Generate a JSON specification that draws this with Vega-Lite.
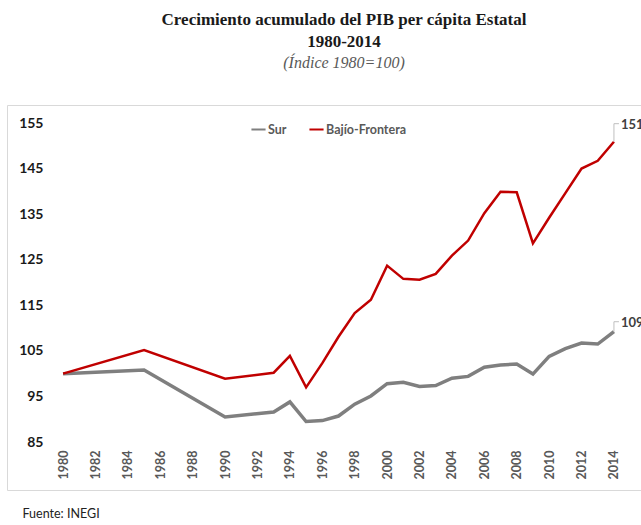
{
  "$schema": "https://vega.github.io/schema/vega-lite/v6.json",
  "autosize": {"type": "none"},
  "width": 640,
  "height": 385,
  "padding": {"left": 7, "top": 105, "right": 0, "bottom": 35},
  "background": "white",
  "title": {
    "text": ["Crecimiento acumulado del PIB per cápita Estatal", "1980-2014"],
    "subtitle": "(Índice 1980=100)",
    "font": "Liberation Serif",
    "fontSize": 17,
    "fontWeight": "bold",
    "color": "#1a1a1a",
    "lineHeight": 22,
    "subtitleFont": "Liberation Serif",
    "subtitleFontSize": 16,
    "subtitleFontStyle": "italic",
    "subtitleColor": "#595959",
    "subtitlePadding": 4,
    "anchor": "middle",
    "frame": "group",
    "dx": 17,
    "offset": 33
  },
  "config": {"view": {"stroke": "#d9d9d9", "strokeWidth": 1}},
  "data": {
    "values": [
      {"year": 1980, "serie": "Sur", "value": 100},
      {"year": 1985, "serie": "Sur", "value": 100.8},
      {"year": 1990, "serie": "Sur", "value": 90.5},
      {"year": 1993, "serie": "Sur", "value": 91.6},
      {"year": 1994, "serie": "Sur", "value": 93.8},
      {"year": 1995, "serie": "Sur", "value": 89.5},
      {"year": 1996, "serie": "Sur", "value": 89.7},
      {"year": 1997, "serie": "Sur", "value": 90.7},
      {"year": 1998, "serie": "Sur", "value": 93.3},
      {"year": 1999, "serie": "Sur", "value": 95.1},
      {"year": 2000, "serie": "Sur", "value": 97.8},
      {"year": 2001, "serie": "Sur", "value": 98.1},
      {"year": 2002, "serie": "Sur", "value": 97.2},
      {"year": 2003, "serie": "Sur", "value": 97.4},
      {"year": 2004, "serie": "Sur", "value": 99.0},
      {"year": 2005, "serie": "Sur", "value": 99.4},
      {"year": 2006, "serie": "Sur", "value": 101.4},
      {"year": 2007, "serie": "Sur", "value": 101.9},
      {"year": 2008, "serie": "Sur", "value": 102.1},
      {"year": 2009, "serie": "Sur", "value": 99.9},
      {"year": 2010, "serie": "Sur", "value": 103.8},
      {"year": 2011, "serie": "Sur", "value": 105.5},
      {"year": 2012, "serie": "Sur", "value": 106.7},
      {"year": 2013, "serie": "Sur", "value": 106.5},
      {"year": 2014, "serie": "Sur", "value": 109.2},
      {"year": 1980, "serie": "Bajío-Frontera", "value": 100},
      {"year": 1985, "serie": "Bajío-Frontera", "value": 105.2},
      {"year": 1990, "serie": "Bajío-Frontera", "value": 98.9},
      {"year": 1993, "serie": "Bajío-Frontera", "value": 100.2},
      {"year": 1994, "serie": "Bajío-Frontera", "value": 103.9},
      {"year": 1995, "serie": "Bajío-Frontera", "value": 97.0},
      {"year": 1996, "serie": "Bajío-Frontera", "value": 102.3},
      {"year": 1997, "serie": "Bajío-Frontera", "value": 108.1},
      {"year": 1998, "serie": "Bajío-Frontera", "value": 113.3},
      {"year": 1999, "serie": "Bajío-Frontera", "value": 116.2},
      {"year": 2000, "serie": "Bajío-Frontera", "value": 123.7},
      {"year": 2001, "serie": "Bajío-Frontera", "value": 120.8},
      {"year": 2002, "serie": "Bajío-Frontera", "value": 120.6},
      {"year": 2003, "serie": "Bajío-Frontera", "value": 121.9},
      {"year": 2004, "serie": "Bajío-Frontera", "value": 125.9},
      {"year": 2005, "serie": "Bajío-Frontera", "value": 129.2},
      {"year": 2006, "serie": "Bajío-Frontera", "value": 135.2},
      {"year": 2007, "serie": "Bajío-Frontera", "value": 139.9},
      {"year": 2008, "serie": "Bajío-Frontera", "value": 139.8},
      {"year": 2009, "serie": "Bajío-Frontera", "value": 128.6},
      {"year": 2010, "serie": "Bajío-Frontera", "value": 134.2},
      {"year": 2011, "serie": "Bajío-Frontera", "value": 139.6},
      {"year": 2012, "serie": "Bajío-Frontera", "value": 145.0},
      {"year": 2013, "serie": "Bajío-Frontera", "value": 146.7},
      {"year": 2014, "serie": "Bajío-Frontera", "value": 150.9}
    ]
  },
  "encoding": {
    "x": {
      "field": "year",
      "type": "quantitative",
      "scale": {"domain": [1976.54, 2016.04], "nice": false, "zero": false},
      "axis": {
        "orient": "bottom",
        "offset": -48,
        "values": [1980, 1982, 1984, 1986, 1988, 1990, 1992, 1994, 1996, 1998, 2000, 2002, 2004, 2006, 2008, 2010, 2012, 2014],
        "format": "d",
        "labelAngle": -90,
        "labelAlign": "right",
        "labelBaseline": "middle",
        "labelFont": "Lato",
        "labelFontSize": 12.5,
        "labelFontWeight": "bold",
        "labelColor": "#595959",
        "labelPadding": 8,
        "labelFlush": false,
        "labelOverlap": false,
        "ticks": false,
        "domain": false,
        "grid": false,
        "title": "Fuente: INEGI",
        "titleX": 15,
        "titleY": 75,
        "titleAlign": "left",
        "titleAnchor": "start",
        "titleBaseline": "alphabetic",
        "titleFont": "Lato",
        "titleFontSize": 12.5,
        "titleFontWeight": "normal",
        "titleColor": "#222222"
      }
    },
    "y": {
      "field": "value",
      "type": "quantitative",
      "scale": {"domain": [74.47, 158.95], "nice": false, "zero": false},
      "axis": {
        "orient": "left",
        "offset": -40,
        "values": [85, 95, 105, 115, 125, 135, 145, 155],
        "labelFont": "Lato",
        "labelFontSize": 14,
        "labelFontWeight": "bold",
        "labelColor": "#1a1a1a",
        "labelPadding": 4,
        "ticks": false,
        "domain": false,
        "grid": false,
        "title": null
      }
    },
    "color": {
      "field": "serie",
      "type": "nominal",
      "scale": {"domain": ["Sur", "Bajío-Frontera"], "range": ["#7f7f7f", "#c00000"]},
      "legend": {
        "orient": "none",
        "legendX": 243,
        "legendY": 16,
        "direction": "horizontal",
        "title": null,
        "symbolType": "stroke",
        "symbolSize": 200,
        "symbolStrokeWidth": 2,
        "labelFont": "Lato",
        "labelFontSize": 12.5,
        "labelFontWeight": "bold",
        "labelColor": "#595959",
        "columnPadding": 18,
        "labelOffset": 1
      }
    }
  },
  "layer": [
    {
      "mark": {"type": "rule", "color": "#d9d9d9", "strokeWidth": 1},
      "encoding": {
        "x": {"aggregate": "min", "field": "year", "type": "quantitative"},
        "x2": {"aggregate": "max", "field": "year"},
        "y": {"datum": 85},
        "color": {"value": "#d9d9d9"}
      }
    },
    {
      "transform": [{"filter": "datum.serie == 'Sur'"}],
      "mark": {"type": "line", "strokeWidth": 3.5}
    },
    {
      "transform": [{"filter": "datum.serie == 'Bajío-Frontera'"}],
      "mark": {"type": "line", "strokeWidth": 2.5}
    },
    {
      "transform": [{"filter": "datum.year == 2014 && datum.serie == 'Bajío-Frontera'"}],
      "encoding": {"color": {"value": "#bfbfbf"}},
      "layer": [
        {
          "mark": {"type": "rule", "strokeWidth": 1, "y2Offset": -18},
          "encoding": {"y2": {"field": "value"}}
        },
        {
          "mark": {"type": "rule", "strokeWidth": 1, "yOffset": -18, "x2Offset": 5},
          "encoding": {"x2": {"field": "year"}}
        },
        {
          "mark": {"type": "text", "align": "left", "baseline": "middle", "dx": 7, "dy": -17, "font": "Lato", "fontSize": 13, "fontWeight": "bold"},
          "encoding": {"text": {"field": "value", "type": "quantitative", "format": ".0f"}, "color": {"value": "#404040"}}
        }
      ]
    },
    {
      "transform": [{"filter": "datum.year == 2014 && datum.serie == 'Sur'"}],
      "encoding": {"color": {"value": "#bfbfbf"}},
      "layer": [
        {
          "mark": {"type": "rule", "strokeWidth": 1, "y2Offset": -10},
          "encoding": {"y2": {"field": "value"}}
        },
        {
          "mark": {"type": "rule", "strokeWidth": 1, "yOffset": -10, "x2Offset": 5},
          "encoding": {"x2": {"field": "year"}}
        },
        {
          "mark": {"type": "text", "align": "left", "baseline": "middle", "dx": 7, "dy": -9, "font": "Lato", "fontSize": 13, "fontWeight": "bold"},
          "encoding": {"text": {"field": "value", "type": "quantitative", "format": ".0f"}, "color": {"value": "#404040"}}
        }
      ]
    }
  ]
}
